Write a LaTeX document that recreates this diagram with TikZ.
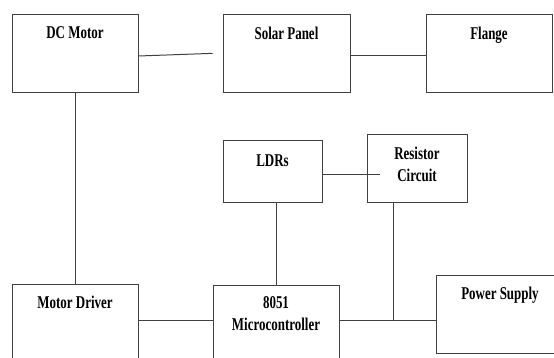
\documentclass[tikz,border=0pt]{standalone}
\usepackage{fontspec}
\setmainfont{Liberation Serif}[FakeStretch=0.72]
\usetikzlibrary{positioning,calc}

\begin{document}
\begin{tikzpicture}[
    x=1pt, y=-1pt,
    block/.style={rectangle, draw=black!75, line width=1pt, inner sep=0pt},
    title/.style={anchor=north, inner sep=0pt, yshift=-12pt, align=center, font=\fontsize{18}{22}\selectfont\bfseries},
    wire/.style={draw=black!75, line width=1pt}
]
    \useasboundingbox (0,0) rectangle (554,358);
    \clip (0,0) rectangle (554,358);

    % Top row
    \node[block, minimum width=126pt, minimum height=78pt, label={[title]north:DC Motor}] (dcm) at (75,54) {};
    \node[block, minimum width=127pt, minimum height=78pt, label={[title]north:Solar Panel}] (sol) at (286.5,54) {};
    \node[block, minimum width=126pt, minimum height=78pt, label={[title]north:Flange}] (flg) at (489,54) {};

    % Sensing
    \node[block, minimum width=99pt, minimum height=62pt, label={[title, yshift=-2pt]north:LDRs}] (ldr) at (272.5,172) {};
    \node[block, minimum width=100pt, minimum height=68pt, label={[title]north:Resistor\\Circuit}] (res) at (417,169) {};

    % Bottom row (runs off the page)
    \node[block, minimum width=126pt, minimum height=126pt, label={[title]north:Motor Driver}] (drv) at (75,347) {};
    \node[block, minimum width=126pt, minimum height=125pt, label={[title]north:8051\\Microcontroller}] (mcu) at (276,347.5) {};
    \node[block, minimum width=128pt, minimum height=78pt, label={[title]north:Power Supply}] (pwr) at (500,314) {};

    \coordinate (jn) at ($(res.south west)+(27,117)$);

    % Links
    \draw[wire, shorten >=10pt] ($(dcm.east)+(0,2)$) -- ($(sol.west)+(0,-1)$);
    \draw[wire] ($(sol.east)+(0,2)$) -- ($(flg.west)+(0,2)$);
    \draw[wire] (dcm.south) -- (drv.north);
    \draw[wire, shorten >=-13pt] ($(ldr.east)+(0,3)$) -- ($(ldr.east -| res.west)+(0,3)$);
    \draw[wire] (mcu.north |- ldr.south) -- (mcu.north);
    \draw[wire] ($(res.south west)+(27,0)$) -- (jn);
    \draw[wire] (drv.east |- jn) -- (mcu.west |- jn);
    \draw[wire] (mcu.east |- jn) -- (pwr.west |- jn);
\end{tikzpicture}
\end{document}
